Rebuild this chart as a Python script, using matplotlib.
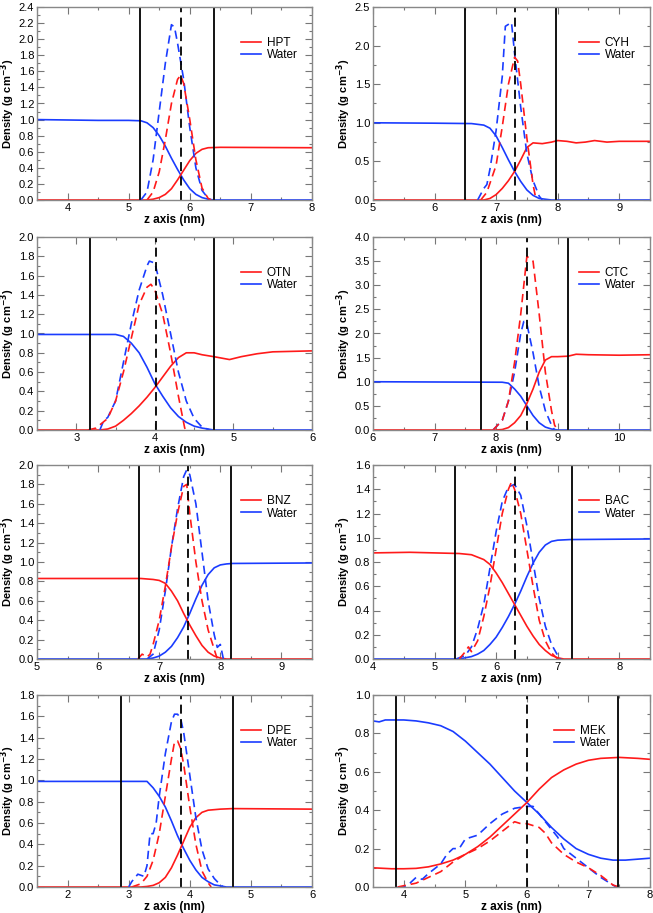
import matplotlib
matplotlib.use("Agg")
import matplotlib.pyplot as plt
from matplotlib.ticker import AutoMinorLocator, MultipleLocator
from matplotlib.lines import Line2D

plt.rcParams['font.family'] = ['Liberation Sans', 'DejaVu Sans']

RED = '#ff1a1a'
BLUE = '#1a3cff'

# ---------------- Panel data ----------------
names = ["HPT", "CYH", "OTN", "CTC", "BNZ", "BAC", "DPE", "MEK"]
xlims = [(3.5, 8), (5, 9.5), (2.5, 6), (6, 10.5), (5, 9.5), (4, 8.5), (1.5, 6), (3.5, 8)]
ylims = [(0, 2.4), (0, 2.5), (0, 2.0), (0, 4.0), (0, 2.0), (0, 1.6), (0, 1.8), (0, 1.0)]
ymajor = [0.2, 0.5, 0.2, 0.5, 0.2, 0.2, 0.2, 0.2]
xmajor = [1, 1, 1, 1, 1, 1, 1, 1]
solid_lines = [(5.19, 6.40), (6.50, 7.97), (3.17, 4.75), (7.75, 9.17),
               (6.67, 8.18), (5.34, 7.23), (2.88, 4.70), (3.88, 7.48)]
dashed_line = [5.85, 7.30, 4.02, 8.50, 7.47, 6.30, 3.86, 6.00]

# HPT
hpt_w_x = [3.5, 4.0, 4.5, 5.0, 5.2, 5.3, 5.4, 5.5, 5.6, 5.7, 5.8, 5.9, 6.0, 6.1, 6.2, 6.3, 6.4, 8.0]
hpt_w_y = [1.0, 0.995, 0.99, 0.99, 0.985, 0.96, 0.9, 0.8, 0.67, 0.52, 0.38, 0.25, 0.14, 0.07, 0.03, 0.01, 0.0, 0.0]
hpt_o_x = [3.5, 5.3, 5.4, 5.5, 5.6, 5.7, 5.8, 5.9, 6.0, 6.1, 6.2, 6.3, 6.5, 8.0]
hpt_o_y = [0.0, 0.0, 0.01, 0.03, 0.07, 0.14, 0.25, 0.37, 0.49, 0.58, 0.63, 0.65, 0.655, 0.65]
hpt_wd_x = [5.2, 5.3, 5.4, 5.5, 5.6, 5.7, 5.75, 5.8, 5.9, 6.0, 6.1, 6.2, 6.3, 6.35]
hpt_wd_y = [0.0, 0.1, 0.5, 1.1, 1.7, 2.18, 2.15, 1.95, 1.5, 0.9, 0.4, 0.12, 0.02, 0.0]
hpt_od_x = [5.3, 5.4, 5.5, 5.6, 5.7, 5.8, 5.85, 5.9, 6.0, 6.1, 6.2, 6.3, 6.35]
hpt_od_y = [0.0, 0.1, 0.35, 0.75, 1.2, 1.5, 1.55, 1.45, 1.0, 0.5, 0.15, 0.02, 0.0]

# CYH
cyh_w_x = [5.0, 6.0, 6.6, 6.8, 6.9, 7.0, 7.1, 7.2, 7.3, 7.4, 7.5, 7.6, 7.7, 7.8, 7.9, 9.5]
cyh_w_y = [1.0, 0.995, 0.99, 0.97, 0.93, 0.83, 0.68, 0.52, 0.37, 0.24, 0.13, 0.06, 0.02, 0.01, 0.0, 0.0]
cyh_o_x = [5.0, 6.8, 6.9, 7.0, 7.1, 7.2, 7.3, 7.4, 7.5, 7.6, 7.75, 7.9, 8.0, 8.15, 8.3, 8.45, 8.6, 8.8, 9.0, 9.5]
cyh_o_y = [0.0, 0.0, 0.02, 0.07, 0.15, 0.25, 0.37, 0.52, 0.68, 0.74, 0.73, 0.75, 0.77, 0.76, 0.74, 0.75, 0.77, 0.75, 0.76, 0.76]
cyh_wd_x = [6.7, 6.8, 6.85, 6.9, 7.0, 7.1, 7.15, 7.25, 7.3, 7.4, 7.5, 7.6, 7.7, 7.75]
cyh_wd_y = [0.0, 0.15, 0.2, 0.4, 0.9, 1.6, 2.25, 2.3, 1.9, 1.2, 0.6, 0.25, 0.05, 0.0]
cyh_od_x = [6.75, 6.85, 7.0, 7.1, 7.2, 7.3, 7.35, 7.4, 7.5, 7.6, 7.65]
cyh_od_y = [0.0, 0.1, 0.45, 0.95, 1.5, 1.85, 1.8, 1.5, 0.8, 0.2, 0.0]

# OTN
otn_w_x = [2.5, 3.0, 3.5, 3.6, 3.7, 3.8, 3.9, 4.0, 4.1, 4.2, 4.3, 4.4, 4.5, 4.6, 4.75, 6.0]
otn_w_y = [0.99, 0.99, 0.99, 0.97, 0.9, 0.8, 0.65, 0.48, 0.35, 0.23, 0.14, 0.08, 0.04, 0.02, 0.0, 0.0]
otn_o_x = [2.5, 3.3, 3.4, 3.5, 3.6, 3.7, 3.8, 3.9, 4.0, 4.1, 4.2, 4.3, 4.4, 4.5, 4.6, 4.75, 4.95, 5.1, 5.3, 5.5, 6.0]
otn_o_y = [0.0, 0.0, 0.01, 0.04, 0.1, 0.17, 0.25, 0.34, 0.44, 0.55, 0.66, 0.75, 0.8, 0.8, 0.78, 0.76, 0.73, 0.76, 0.79, 0.81, 0.82]
otn_wd_x = [3.3, 3.35, 3.4, 3.5, 3.6, 3.7, 3.8, 3.9, 3.93, 4.0, 4.1, 4.2, 4.3, 4.4, 4.5, 4.6, 4.7]
otn_wd_y = [0.0, 0.1, 0.13, 0.3, 0.7, 1.1, 1.45, 1.7, 1.75, 1.73, 1.4, 1.0, 0.6, 0.3, 0.12, 0.03, 0.0]
otn_od_x = [3.15, 3.25, 3.4, 3.5, 3.6, 3.7, 3.8, 3.9, 3.95, 4.0, 4.1, 4.2, 4.3, 4.38, 4.4]
otn_od_y = [0.0, 0.02, 0.12, 0.3, 0.6, 0.95, 1.3, 1.48, 1.51, 1.45, 1.2, 0.8, 0.35, 0.02, 0.0]

# CTC
ctc_w_x = [6.0, 7.0, 8.1, 8.2, 8.3, 8.4, 8.5, 8.6, 8.7, 8.8, 8.9, 9.0, 10.5]
ctc_w_y = [1.0, 0.995, 0.99, 0.97, 0.85, 0.7, 0.5, 0.3, 0.15, 0.06, 0.02, 0.0, 0.0]
ctc_o_x = [6.0, 8.0, 8.1, 8.2, 8.3, 8.4, 8.5, 8.6, 8.7, 8.8, 8.9, 9.0, 9.17, 9.3, 9.5, 10.0, 10.5]
ctc_o_y = [0.0, 0.0, 0.01, 0.05, 0.15, 0.3, 0.55, 0.85, 1.2, 1.45, 1.52, 1.52, 1.53, 1.57, 1.56, 1.55, 1.56]
ctc_wd_x = [7.95, 8.1, 8.2, 8.3, 8.4, 8.45, 8.5, 8.6, 8.7, 8.8, 8.9, 8.95]
ctc_wd_y = [0.0, 0.2, 0.6, 1.2, 2.0, 2.25, 2.2, 1.6, 0.9, 0.4, 0.1, 0.0]
ctc_od_x = [7.95, 8.1, 8.2, 8.3, 8.4, 8.5, 8.6, 8.7, 8.8, 8.9, 8.95, 9.0]
ctc_od_y = [0.0, 0.2, 0.6, 1.4, 2.4, 3.6, 3.5, 2.4, 1.2, 0.4, 0.1, 0.0]

# BNZ
bnz_w_x = [5.0, 6.8, 6.9, 7.0, 7.1, 7.2, 7.3, 7.4, 7.5, 7.6, 7.7, 7.8, 7.9, 8.0, 8.1, 8.2, 9.5]
bnz_w_y = [0.0, 0.0, 0.01, 0.03, 0.07, 0.13, 0.22, 0.33, 0.47, 0.62, 0.76, 0.87, 0.94, 0.97, 0.98, 0.985, 0.99]
bnz_o_x = [5.0, 6.0, 6.7, 6.9, 7.0, 7.1, 7.2, 7.3, 7.4, 7.5, 7.6, 7.7, 7.8, 7.9, 8.0, 8.1, 9.5]
bnz_o_y = [0.83, 0.83, 0.83, 0.82, 0.81, 0.78, 0.7, 0.6, 0.47, 0.35, 0.24, 0.14, 0.07, 0.03, 0.01, 0.0, 0.0]
bnz_wd_x = [6.8, 6.9, 7.0, 7.1, 7.2, 7.3, 7.4, 7.45, 7.5, 7.6, 7.7, 7.8, 7.9, 7.95, 8.0, 8.05]
bnz_wd_y = [0.0, 0.05, 0.3, 0.7, 1.15, 1.55, 1.88, 1.95, 1.9, 1.6, 1.1, 0.6, 0.25, 0.12, 0.15, 0.0]
bnz_od_x = [6.65, 6.72, 6.8, 6.85, 6.9, 7.0, 7.1, 7.2, 7.3, 7.4, 7.45, 7.5, 7.6, 7.7, 7.8, 7.9, 7.95]
bnz_od_y = [0.0, 0.05, 0.02, 0.05, 0.15, 0.4, 0.75, 1.15, 1.5, 1.78, 1.8, 1.5, 1.0, 0.6, 0.3, 0.1, 0.0]

# BAC
bac_w_x = [4.0, 5.4, 5.5, 5.6, 5.7, 5.8, 5.9, 6.0, 6.1, 6.2, 6.3, 6.4, 6.5, 6.6, 6.7, 6.8, 6.9, 7.0, 7.2, 8.5]
bac_w_y = [0.0, 0.0, 0.01, 0.02, 0.04, 0.07, 0.12, 0.18, 0.26, 0.35, 0.45, 0.56, 0.68, 0.79, 0.88, 0.94, 0.97, 0.98, 0.985, 0.99]
bac_o_x = [4.0, 4.6, 5.4, 5.6, 5.7, 5.8, 5.9, 6.0, 6.1, 6.2, 6.3, 6.4, 6.5, 6.6, 6.7, 6.8, 6.9, 7.0, 7.1, 8.5]
bac_o_y = [0.875, 0.88, 0.87, 0.86, 0.84, 0.82, 0.78, 0.71, 0.63, 0.54, 0.45, 0.36, 0.27, 0.19, 0.12, 0.07, 0.03, 0.01, 0.0, 0.0]
bac_wd_x = [5.35, 5.5, 5.6, 5.7, 5.8, 5.9, 6.0, 6.1, 6.2, 6.3, 6.4, 6.5, 6.6, 6.7, 6.8, 6.9, 7.0, 7.05]
bac_wd_y = [0.0, 0.03, 0.1, 0.25, 0.45, 0.75, 1.05, 1.3, 1.42, 1.44, 1.35, 1.1, 0.8, 0.5, 0.27, 0.12, 0.03, 0.0]
bac_od_x = [5.4, 5.5, 5.55, 5.6, 5.7, 5.8, 5.9, 6.0, 6.1, 6.2, 6.25, 6.3, 6.4, 6.5, 6.6, 6.7, 6.8, 6.9, 7.0]
bac_od_y = [0.0, 0.06, 0.1, 0.06, 0.15, 0.35, 0.6, 0.9, 1.2, 1.4, 1.46, 1.4, 1.2, 0.9, 0.6, 0.32, 0.15, 0.05, 0.0]

# DPE
dpe_w_x = [1.5, 2.5, 3.3, 3.35, 3.4, 3.5, 3.6, 3.7, 3.8, 3.9, 4.0, 4.1, 4.2, 4.3, 4.4, 4.5, 4.6, 6.0]
dpe_w_y = [0.99, 0.99, 0.99, 0.96, 0.93, 0.85, 0.75, 0.62, 0.48, 0.36, 0.25, 0.16, 0.09, 0.05, 0.02, 0.01, 0.0, 0.0]
dpe_o_x = [1.5, 3.2, 3.3, 3.4, 3.5, 3.6, 3.7, 3.8, 3.9, 4.0, 4.1, 4.2, 4.3, 4.5, 4.7, 6.0]
dpe_o_y = [0.0, 0.0, 0.005, 0.015, 0.04, 0.09, 0.18, 0.3, 0.43, 0.56, 0.65, 0.7, 0.72, 0.73, 0.735, 0.73]
dpe_wd_x = [3.0, 3.05, 3.15, 3.25, 3.3, 3.35, 3.4, 3.45, 3.5, 3.6, 3.7, 3.75, 3.8, 3.85, 3.9, 4.0, 4.1, 4.2, 4.3, 4.4, 4.5, 4.55]
dpe_wd_y = [0.0, 0.05, 0.12, 0.1, 0.2, 0.5, 0.5, 0.6, 0.85, 1.25, 1.55, 1.62, 1.62, 1.58, 1.45, 1.05, 0.65, 0.35, 0.17, 0.08, 0.02, 0.0]
dpe_od_x = [3.05, 3.2, 3.3, 3.4, 3.5, 3.6, 3.7, 3.75, 3.8, 3.85, 3.9, 4.0, 4.1, 4.2, 4.3, 4.35]
dpe_od_y = [0.0, 0.03, 0.1, 0.25, 0.5, 0.85, 1.2, 1.36, 1.37, 1.3, 1.15, 0.75, 0.4, 0.15, 0.04, 0.0]

# MEK
mek_w_x = [3.5, 3.6, 3.7, 3.9, 4.0, 4.2, 4.4, 4.6, 4.8, 5.0, 5.2, 5.4, 5.6, 5.8, 6.0, 6.2, 6.4, 6.6, 6.8, 7.0, 7.2, 7.4, 7.6, 7.8, 8.0]
mek_w_y = [0.865, 0.86, 0.87, 0.87, 0.87, 0.865, 0.855, 0.84, 0.81, 0.76, 0.7, 0.64, 0.57, 0.5, 0.44, 0.38, 0.31, 0.25, 0.2, 0.17, 0.15, 0.14, 0.14, 0.145, 0.15]
mek_o_x = [3.5, 3.8, 4.0, 4.2, 4.4, 4.6, 4.8, 5.0, 5.2, 5.4, 5.6, 5.8, 6.0, 6.2, 6.4, 6.6, 6.8, 7.0, 7.2, 7.5, 7.8, 8.0]
mek_o_y = [0.1, 0.095, 0.095, 0.097, 0.105, 0.12, 0.14, 0.17, 0.21, 0.26, 0.32, 0.38, 0.44, 0.51, 0.57, 0.61, 0.64, 0.66, 0.67, 0.675, 0.67, 0.665]
mek_wd_x = [3.9, 4.0, 4.1, 4.2, 4.3, 4.4, 4.6, 4.7, 4.8, 4.9, 5.0, 5.2, 5.4, 5.6, 5.8, 6.0, 6.1, 6.2, 6.4, 6.5, 6.6, 6.8, 7.0, 7.2, 7.4, 7.45]
mek_wd_y = [0.0, 0.0, 0.02, 0.05, 0.04, 0.07, 0.12, 0.17, 0.2, 0.2, 0.25, 0.27, 0.33, 0.38, 0.41, 0.42, 0.42, 0.38, 0.3, 0.26, 0.2, 0.15, 0.1, 0.05, 0.01, 0.0]
mek_od_x = [3.9, 4.2, 4.4, 4.6, 4.8, 5.0, 5.2, 5.4, 5.6, 5.8, 5.9, 6.0, 6.1, 6.2, 6.3, 6.4, 6.6, 6.8, 7.0, 7.2, 7.4, 7.5]
mek_od_y = [0.0, 0.02, 0.05, 0.08, 0.13, 0.17, 0.2, 0.24, 0.29, 0.34, 0.33, 0.33, 0.32, 0.31, 0.28, 0.23, 0.17, 0.13, 0.1, 0.06, 0.01, 0.0]

panels = [
    (hpt_w_x, hpt_w_y, hpt_o_x, hpt_o_y, hpt_wd_x, hpt_wd_y, hpt_od_x, hpt_od_y),
    (cyh_w_x, cyh_w_y, cyh_o_x, cyh_o_y, cyh_wd_x, cyh_wd_y, cyh_od_x, cyh_od_y),
    (otn_w_x, otn_w_y, otn_o_x, otn_o_y, otn_wd_x, otn_wd_y, otn_od_x, otn_od_y),
    (ctc_w_x, ctc_w_y, ctc_o_x, ctc_o_y, ctc_wd_x, ctc_wd_y, ctc_od_x, ctc_od_y),
    (bnz_w_x, bnz_w_y, bnz_o_x, bnz_o_y, bnz_wd_x, bnz_wd_y, bnz_od_x, bnz_od_y),
    (bac_w_x, bac_w_y, bac_o_x, bac_o_y, bac_wd_x, bac_wd_y, bac_od_x, bac_od_y),
    (dpe_w_x, dpe_w_y, dpe_o_x, dpe_o_y, dpe_wd_x, dpe_wd_y, dpe_od_x, dpe_od_y),
    (mek_w_x, mek_w_y, mek_o_x, mek_o_y, mek_wd_x, mek_wd_y, mek_od_x, mek_od_y),
]

W, H = 653, 913
fig = plt.figure(figsize=(W / 100, H / 100), dpi=100)

col_lr = [(37, 312), (373, 650)]
row_tb = [(7, 200), (237, 430), (465, 659), (695, 887)]
label_right_px = [17, 353]
legend_x = [0.965, 0.965, 0.965, 0.965, 0.965, 0.965, 0.965, 0.875]

for i, name in enumerate(names):
    r, c = divmod(i, 2)
    l, rr = col_lr[c]
    t, b = row_tb[r]
    ax = fig.add_axes([l / W, 1 - b / H, (rr - l) / W, (b - t) / H])
    wx, wy, ox, oy, wdx, wdy, odx, ody = panels[i]
    lw = 1.2
    ax.plot(wx, wy, color=BLUE, lw=lw)
    ax.plot(ox, oy, color=RED, lw=lw)
    ax.plot(wdx, wdy, color=BLUE, lw=lw, ls=(0, (5, 3)))
    ax.plot(odx, ody, color=RED, lw=lw, ls=(0, (5, 3)))
    for xv in solid_lines[i]:
        ax.axvline(xv, color='black', lw=1.3)
    ax.axvline(dashed_line[i], color='black', lw=1.3, ls=(0, (5, 3)))
    ax.set_xlim(*xlims[i])
    ax.set_ylim(*ylims[i])
    ax.xaxis.set_major_locator(MultipleLocator(xmajor[i]))
    ax.yaxis.set_major_locator(MultipleLocator(ymajor[i]))
    ax.xaxis.set_minor_locator(AutoMinorLocator(2))
    ax.yaxis.set_minor_locator(AutoMinorLocator(2))
    ax.tick_params(which='both', direction='in', top=True, right=True,
                   color='#777777', labelsize=8, pad=2)
    ax.tick_params(which='major', length=5, width=0.8)
    ax.tick_params(which='minor', length=2.5, width=0.8)
    for sp in ax.spines.values():
        sp.set_color('#888888')
        sp.set_linewidth(1.0)
    ax.set_xlabel('z axis (nm)', fontsize=8.5, fontweight='bold', labelpad=1)
    ax.set_ylabel('Density (g cm$^{\\mathbf{-3}}$)', fontsize=8, fontweight='bold')
    ax.yaxis.set_label_coords((label_right_px[c] - l) / (rr - l), 0.5)
    handles = [Line2D([], [], color=RED, lw=1.2), Line2D([], [], color=BLUE, lw=1.2)]
    ax.legend(handles, [name, 'Water'], loc='upper right', bbox_to_anchor=(legend_x[i], 0.87),
              frameon=False, fontsize=8.5, handlelength=1.7, handletextpad=0.5,
              labelspacing=0.05, borderaxespad=0)

fig.savefig('out.png', dpi=100)
